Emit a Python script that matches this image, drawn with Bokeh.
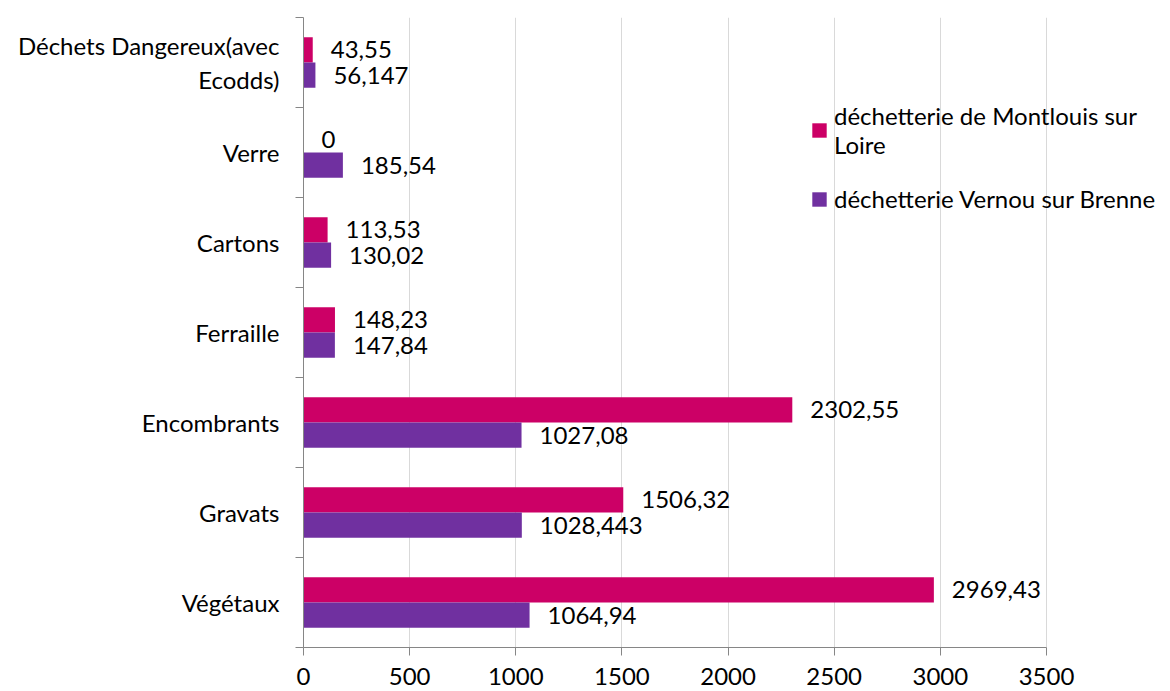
from bokeh.plotting import figure
from bokeh.models import ColumnDataSource, FixedTicker, Legend, LegendItem, Range1d
from bokeh.core.properties import value
from bokeh.embed import file_html
from bokeh.resources import INLINE

categories = ["Déchets Dangereux(avec\nEcodds)", "Verre", "Cartons", "Ferraille",
              "Encombrants", "Gravats", "Végétaux"]
montlouis = [43.55, 0, 113.53, 148.23, 2302.55, 1506.32, 2969.43]
vernou = [56.147, 185.54, 130.02, 147.84, 1027.08, 1028.443, 1064.94]
series_names = ["déchetterie de Montlouis sur\nLoire", "déchetterie Vernou sur Brenne"]
x_ticks = [0, 500, 1000, 1500, 2000, 2500, 3000, 3500]

PINK = "#CC0066"
PURPLE = "#7030A0"
FONT = "Lato"
FS = "24px"

W, H = 1170, 691
LEFT, TOP, BOTTOM = 303, 17, 44
AXIS_PX = 743  # pixels from 0 to 3500
frame_w = W - LEFT
frame_h = H - TOP - BOTTOM
x_end = x_ticks[-1] * frame_w / AXIS_PX

n = len(categories)
centers = [n - 1 - i + 0.5 for i in range(n)]
bounds = list(range(n + 1))
bh = 0.28

def fmt(v):
    s = str(v)
    if s.endswith(".0"):
        s = s[:-2]
    return s.replace(".", ",")

src_m = ColumnDataSource(dict(y=[c + bh / 2 for c in centers], v=montlouis,
                              lab=[fmt(v) for v in montlouis]))
src_v = ColumnDataSource(dict(y=[c - bh / 2 for c in centers], v=vernou,
                              lab=[fmt(v) for v in vernou]))

p = figure(frame_width=frame_w, frame_height=frame_h, output_backend="svg", toolbar_location=None,
           x_range=Range1d(0, x_end), y_range=Range1d(0, n),
           min_border_left=LEFT, min_border_top=TOP, min_border_bottom=BOTTOM, min_border_right=0)
p.outline_line_color = None
p.background_fill_color = "white"

r1 = p.hbar(y="y", right="v", left=0, height=bh, source=src_m, fill_color=PINK, line_color=None)
r2 = p.hbar(y="y", right="v", left=0, height=bh, source=src_v, fill_color=PURPLE, line_color=None)

for src in (src_m, src_v):
    p.text(x="v", y="y", text="lab", source=src, x_offset=18, text_baseline="middle",
           text_align="left", text_font=value(FONT), text_font_size=FS, text_color="black")

# x axis
p.xaxis.ticker = FixedTicker(ticks=x_ticks)
p.xaxis.bounds = (x_ticks[0], x_ticks[-1])
p.xaxis.axis_line_color = "#868686"
p.xaxis.major_tick_line_color = "#868686"
p.xaxis.major_tick_in = 0
p.xaxis.major_tick_out = 8
p.xaxis.minor_tick_line_color = None
p.xaxis.major_label_text_font = FONT
p.xaxis.major_label_text_font_size = FS
p.xaxis.major_label_text_color = "black"
p.xaxis.major_label_standoff = 12
p.xgrid.ticker = FixedTicker(ticks=x_ticks)
p.xgrid.grid_line_color = "#D9D9D9"
p.ygrid.grid_line_color = None

# y axis: labels at centres, tick marks at category boundaries
p.yaxis.ticker = FixedTicker(ticks=centers, minor_ticks=bounds)
p.yaxis.major_label_overrides = {c: categories[i] for i, c in enumerate(centers)}
p.yaxis.axis_line_color = "#868686"
p.yaxis.major_tick_line_color = None
p.yaxis.major_tick_in = 0
p.yaxis.major_tick_out = 0
p.yaxis.minor_tick_line_color = "#868686"
p.yaxis.minor_tick_in = 0
p.yaxis.minor_tick_out = 8
p.yaxis.major_label_standoff = 16
p.yaxis.major_label_text_font = FONT
p.yaxis.major_label_text_font_size = FS
p.yaxis.major_label_text_color = "black"
p.yaxis.major_label_text_line_height = 1.2

legend = Legend(items=[LegendItem(label=series_names[0], renderers=[r1]),
                       LegendItem(label=series_names[1], renderers=[r2])],
                location=(507, 434))
legend.border_line_color = None
legend.background_fill_alpha = 0
legend.glyph_width = 18
legend.glyph_height = 18
legend.label_standoff = 6
legend.label_text_font = FONT
legend.label_text_font_size = FS
legend.label_text_color = "black"
legend.label_text_line_height = 1.3
legend.spacing = 25
legend.padding = 0
legend.margin = 0
p.add_layout(legend, "center")

open("out.html", "w").write(file_html(p, INLINE))
